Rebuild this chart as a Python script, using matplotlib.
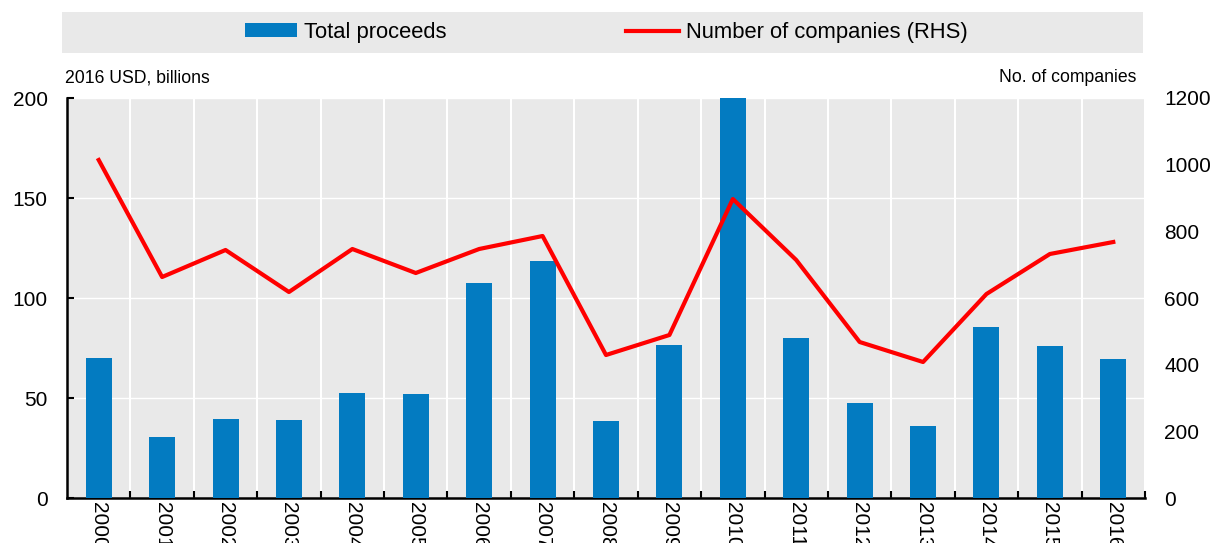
import matplotlib
matplotlib.use("Agg")
import matplotlib.pyplot as plt
from matplotlib import font_manager
from matplotlib.patches import Rectangle, Patch
from matplotlib.lines import Line2D
import numpy as np

years = [str(y) for y in range(2000, 2017)]
proceeds = [70, 30.5, 39.5, 39, 52.5, 52, 107.5, 118.5, 38.5, 76.5, 200, 80, 47.5, 36, 85.5, 76, 69.5]
companies = [1014, 663, 744, 618, 747, 675, 747, 786, 429, 489, 897, 714, 468, 408, 612, 732, 768]

names = {f.name for f in font_manager.fontManager.ttflist}
fam = "Liberation Sans Narrow" if "Liberation Sans Narrow" in names else "Liberation Sans"
plt.rcParams["font.family"] = [fam, "DejaVu Sans"]

BAR = "#037bc1"
BG = "#e9e9e9"

fig = plt.figure(figsize=(12.12, 5.43), dpi=100)
ax = fig.add_axes([67 / 1212, 1 - 498 / 543, 1078 / 1212, 400 / 543])
ax.set_facecolor(BG)

x = np.arange(len(years))
ax.bar(x, proceeds, width=0.41, color=BAR, zorder=3)
ax.set_xlim(-0.5, len(years) - 0.5)
ax.set_ylim(0, 200)
ax.set_yticks([0, 50, 100, 150, 200])
ax.grid(axis="y", color="white", linewidth=1.0, zorder=1)
# vertical separators between categories
ax.set_xticks(x + 0.5, minor=True)
ax.grid(axis="x", which="minor", color="white", linewidth=1.5, zorder=1)
ax.set_xticks(x)
ax.set_xticklabels(years, rotation=-90, fontsize=15)
ax.tick_params(axis="x", which="major", length=0, pad=3)
ax.tick_params(axis="x", which="minor", direction="in", length=5, width=1.5)
ax.tick_params(axis="y", direction="in", length=5, width=1.5, labelsize=15, pad=14)
for s in ["top", "right"]:
    ax.spines[s].set_visible(False)
for s in ["left", "bottom"]:
    ax.spines[s].set_linewidth(1.8)

ax2 = ax.twinx()
ax2.plot(x, companies, color="#ff0000", linewidth=3, zorder=4)
ax2.set_ylim(0, 1200)
ax2.set_yticks([0, 200, 400, 600, 800, 1000, 1200])
ax2.tick_params(axis="y", length=0, labelsize=15, pad=14)
for s in ax2.spines.values():
    s.set_visible(False)

fig.text(65 / 1212, 1 - 78 / 543, "2016 USD, billions", fontsize=12.7, va="center", ha="left")
fig.text(1136 / 1212, 1 - 78 / 543, "No. of companies", fontsize=12.7, va="center", ha="right")

# legend band
fig.patches.append(Rectangle((62 / 1212, 1 - 53 / 543), 1081 / 1212, 41 / 543,
                             transform=fig.transFigure, facecolor=BG, edgecolor="none", zorder=0))
handles = [Patch(facecolor=BAR, edgecolor="none"), Line2D([], [], color="#ff0000", linewidth=3)]
fig.legend(handles, ["Total proceeds", "Number of companies (RHS)"], loc="center",
           bbox_to_anchor=(606 / 1212, 1 - 32.5 / 543), ncol=2, frameon=False, fontsize=15.8,
           handlelength=2.4, handleheight=0.6, handletextpad=0.3, columnspacing=8.2)

fig.savefig("out.png", dpi=100)
